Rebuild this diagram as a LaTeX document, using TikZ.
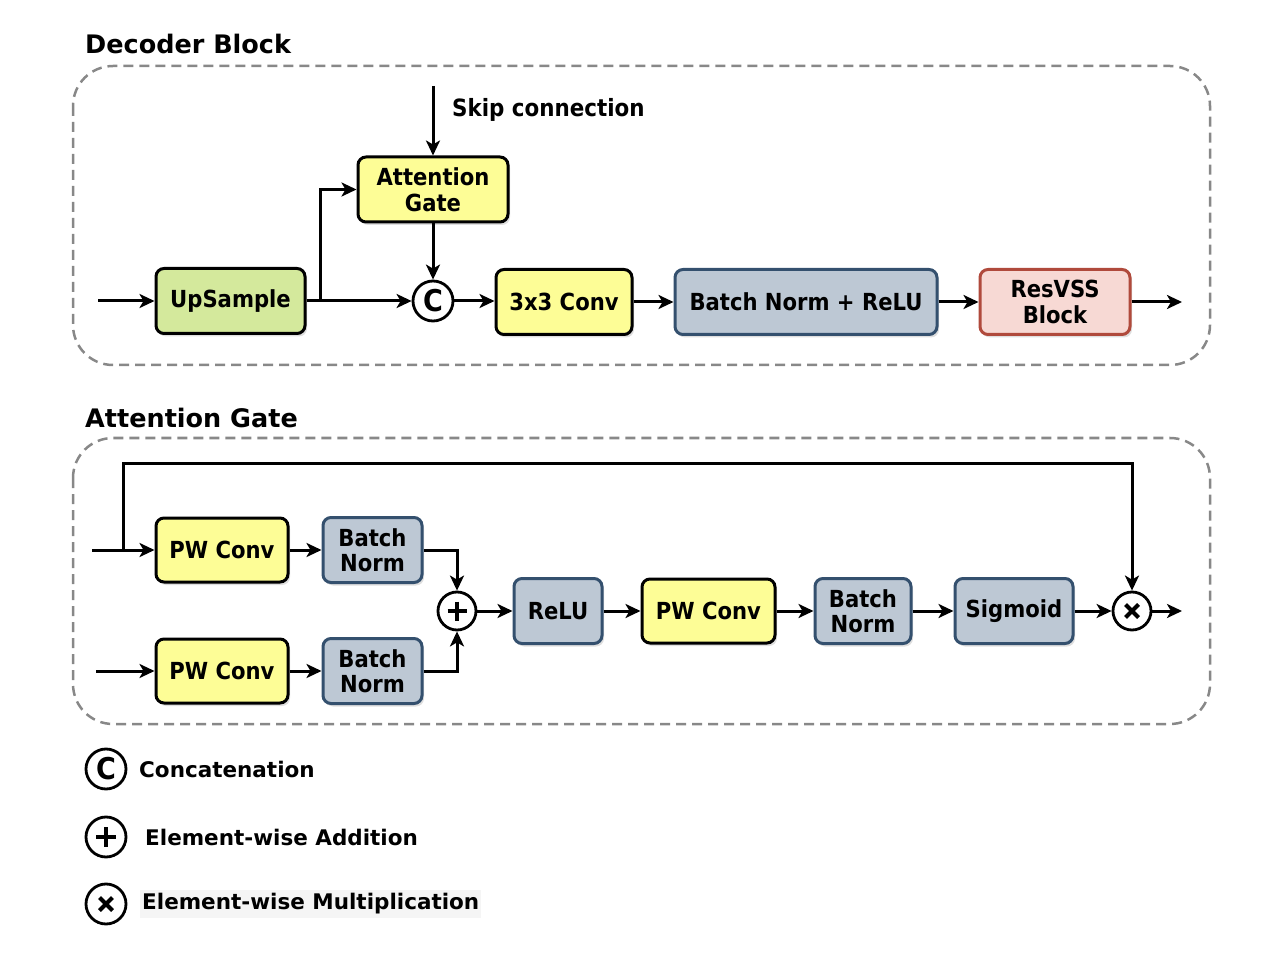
\documentclass[tikz,border=0pt]{standalone}
\usepackage{fontspec}
\setmainfont{DejaVu Sans}
\newfontfamily\cond{DejaVu Sans Condensed}
\usetikzlibrary{arrows.meta,shadows,calc}
\definecolor{yelF}{HTML}{FDFD96}
\definecolor{grnF}{HTML}{D4E99C}
\definecolor{gryF}{HTML}{BDC8D4}
\definecolor{gryD}{HTML}{34506E}
\definecolor{pnkF}{HTML}{F7D9D4}
\definecolor{pnkD}{HTML}{B04A3C}
\definecolor{dashC}{HTML}{888888}
\tikzset{
  box/.style={draw, line width=3pt, rounded corners=8pt, align=center, inner sep=0pt,
    font=\cond\bfseries\fontsize{23.5}{25.5}\selectfont,
    drop shadow={shadow xshift=2pt, shadow yshift=-3pt, opacity=0.25}},
  ybox/.style={box, fill=yelF, draw=black},
  gbox/.style={box, fill=grnF, draw=black},
  bbox/.style={box, fill=gryF, draw=gryD},
  pbox/.style={box, fill=pnkF, draw=pnkD},
  arr/.style={line width=3pt, -{Stealth[length=15pt,width=14pt,inset=4pt]}},
  op/.style={circle, draw, fill=white, line width=2.8pt, minimum size=40pt, inner sep=0pt},
  frame/.style={draw=dashC, line width=2.5pt, dash pattern=on 10pt off 6pt, rounded corners=40pt},
  ttl/.style={anchor=west, font=\bfseries\fontsize{25.5}{28}\selectfont, inner sep=0pt},
  lgd/.style={anchor=west, font=\bfseries\fontsize{21.5}{24}\selectfont, inner sep=0pt},
}
\begin{document}
\begin{tikzpicture}[x=1pt,y=-1pt]
\useasboundingbox (0,0) rectangle (1270,976);
% frames
\draw[frame] (73,66) rectangle (1210,365);
\draw[frame] (73,438) rectangle (1210,724);
\node[ttl] (t1) at (85,44) {Decoder Block};
\node[ttl] (t2) at (85,418) {Attention Gate};

% ---------- Decoder block ----------
\node[gbox, minimum width=149pt, minimum height=65pt] (up) at (230.5,301) {UpSample};
\node[ybox, minimum width=150pt, minimum height=65pt] (att) at (433,189.5) {Attention\\Gate};
\node[op, font=\cond\bfseries\fontsize{30}{30}\selectfont] (cc) at (433,301) {C};
\node[ybox, minimum width=136pt, minimum height=65pt] (conv) at (564,302) {3x3 Conv};
\node[bbox, minimum width=262pt, minimum height=65pt] (bnr) at (806,302) {Batch Norm + ReLU};
\node[pbox, minimum width=150pt, minimum height=65pt] (res) at (1055,302) {ResVSS\\Block};
\coordinate (in1) at (98,301);
\coordinate (br1) at (320,301);
\coordinate (sk) at (433,86);
\coordinate (out1) at (1182,302);
\node[anchor=west, font=\cond\bfseries\fontsize{23.8}{25}\selectfont, inner sep=0pt] (skl) at (452,110) {Skip connection};

\draw[arr] (in1) -- (up.west);
\draw[arr] (up.east) -- (cc.west);
\draw[arr] (br1) |- (att.west);
\draw[arr] (sk) -- (att.north);
\draw[arr] (att.south) -- (cc.north);
\draw[arr] (cc.east) -- (cc.east -| conv.west);
\draw[arr] (conv.east) -- (bnr.west);
\draw[arr] (bnr.east) -- (res.west);
\draw[arr] (res.east) -- (out1);

% ---------- Attention gate ----------
\node[ybox, minimum width=132pt, minimum height=64pt] (pw1) at (222,550) {PW Conv};
\node[bbox, minimum width=99pt, minimum height=65pt] (bn1) at (372.5,550) {Batch\\Norm};
\node[ybox, minimum width=132pt, minimum height=64pt] (pw2) at (222,671) {PW Conv};
\node[bbox, minimum width=99pt, minimum height=65pt] (bn2) at (372.5,671) {Batch\\Norm};
\node[op, minimum size=38pt] (plus) at (457,611) {};
\node[bbox, minimum width=88pt, minimum height=65pt] (relu) at (558,611) {ReLU};
\node[ybox, minimum width=133pt, minimum height=64pt] (pw3) at (708.5,611) {PW Conv};
\node[bbox, minimum width=96pt, minimum height=65pt] (bn3) at (863,611) {Batch\\Norm};
\node[bbox, minimum width=118pt, minimum height=65pt] (sig) at (1014,611) {Sigmoid};
\node[op, minimum size=38pt] (mul) at (1132,611) {};
\draw[line width=4pt] ($(plus)+(-9.5,0)$) -- ($(plus)+(9.5,0)$) ($(plus)+(0,-9.5)$) -- ($(plus)+(0,9.5)$);
\draw[line width=4pt] ($(mul)+(-6.5,-6.5)$) -- ($(mul)+(6.5,6.5)$) ($(mul)+(-6.5,6.5)$) -- ($(mul)+(6.5,-6.5)$);
\coordinate (in2) at (92,550);
\coordinate (br2) at (123,550);
\coordinate (tp) at (123,463);
\coordinate (in3) at (96,671);
\coordinate (out2) at (1182,611);

\draw[arr] (in2) -- (pw1.west);
\draw[arr] (br2) -- (tp) -| (mul.north);
\draw[arr] (pw1.east) -- (bn1.west);
\draw[arr] (in3) -- (pw2.west);
\draw[arr] (pw2.east) -- (bn2.west);
\draw[arr] (bn1.east) -| (plus.north);
\draw[arr] (bn2.east) -| (plus.south);
\draw[arr] (plus.east) -- (relu.west);
\draw[arr] (relu.east) -- (pw3.west);
\draw[arr] (pw3.east) -- (bn3.west);
\draw[arr] (bn3.east) -- (sig.west);
\draw[arr] (sig.east) -- (mul.west);
\draw[arr] (mul.east) -- (out2);

% ---------- Legend ----------
\node[op, font=\cond\bfseries\fontsize{30}{30}\selectfont] (lc) at (106,769) {C};
\node[op] (lp) at (106,837) {};
\node[op] (lm) at (106,904) {};
\draw[line width=4pt] ($(lp)+(-10,0)$) -- ($(lp)+(10,0)$) ($(lp)+(0,-10)$) -- ($(lp)+(0,10)$);
\draw[line width=4pt] ($(lm)+(-6.5,-6.5)$) -- ($(lm)+(6.5,6.5)$) ($(lm)+(-6.5,6.5)$) -- ($(lm)+(6.5,-6.5)$);
\node[lgd] (lct) at (139,769) {Concatenation};
\node[lgd] (lpt) at (145,837) {Element-wise Addition};
\node[lgd, fill=black!4, inner xsep=2pt, inner ysep=4pt] (lmt) at (140,904) {Element-wise Multiplication};
\end{tikzpicture}
\end{document}
